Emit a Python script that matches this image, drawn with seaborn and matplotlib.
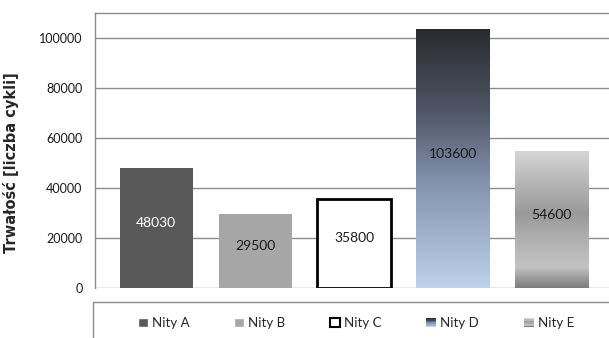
import numpy as np
import pandas as pd
import matplotlib
matplotlib.use("Agg")
import matplotlib.pyplot as plt
import seaborn as sns
from matplotlib.colors import LinearSegmentedColormap
from matplotlib.patches import Rectangle
from matplotlib.legend_handler import HandlerBase

# Fatigue life of rivet types
categories = ["Nity A", "Nity B", "Nity C", "Nity D", "Nity E"]
cycles = [48030, 29500, 35800, 103600, 54600]
value_labels = ["48030", "29500", "35800", "103600", "54600"]
y_ticks = [0, 20000, 40000, 60000, 80000, 100000]

face_colors = ["#595959", "#a6a6a6", "#ffffff", "#6e7d96", "#a8a8a8"]
label_colors = ["white", "#1a1a1a", "#1a1a1a", "#1a1a1a", "#1a1a1a"]

# vertical colour ramps (top -> bottom) for the shaded bars
grad_d = LinearSegmentedColormap.from_list(
    "grad_d", [(0.0, "#2a2b2f"), (0.3, "#4c5363"), (0.6, "#8494b0"), (1.0, "#bcd1ec")])
grad_e = LinearSegmentedColormap.from_list(
    "grad_e", [(0.0, "#d6d6d6"), (0.45, "#999999"), (0.7, "#b6b6b6"),
               (0.85, "#c2c2c2"), (1.0, "#7c7c7c")])
gradients = {3: grad_d, 4: grad_e}

sns.set_theme(style="white")
plt.rcParams["font.family"] = ["Lato", "DejaVu Sans"]

df = pd.DataFrame({"rivet": categories, "cycles": cycles})

fig = plt.figure(figsize=(6.09, 3.38), dpi=100)
ax = fig.add_axes([95 / 609, 1 - 288 / 338, 1 - 95 / 609, (288 - 13) / 338])

sns.barplot(data=df, x="rivet", y="cycles", hue="rivet", palette=face_colors,
            legend=False, width=0.74, saturation=1, ax=ax, zorder=2)

grad_img = np.linspace(0, 1, 256).reshape(-1, 1)
for i, bar in enumerate(ax.patches):
    bar.set_linewidth(0)
    if i == 2:
        bar.set_edgecolor("black")
        bar.set_linewidth(2)
    if i in gradients:
        x0, y0 = bar.get_x(), bar.get_y()
        w, h = bar.get_width(), bar.get_height()
        bar.set_facecolor("none")
        ax.imshow(grad_img, cmap=gradients[i], aspect="auto",
                  extent=(x0, x0 + w, y0, y0 + h), origin="upper", zorder=1.9)
    # value label in the middle of each bar
    ax.text(bar.get_x() + bar.get_width() / 2, cycles[i] / 2 + 2000, value_labels[i],
            ha="center", va="center", fontsize=10, color=label_colors[i], zorder=3)

ax.set_xlim(-0.62, 4.58)
ax.set_ylim(0, 110000)
ax.set_yticks(y_ticks)
ax.set_yticklabels([str(t) for t in y_ticks])
ax.set_xticks([])
ax.set_xlabel("")
ax.set_ylabel("Trwałość [liczba cykli]", fontsize=10.5, fontweight="bold",
              family=["DejaVu Sans"], labelpad=11)
ax.yaxis.set_label_coords(-0.148, 0.455)
ax.yaxis.grid(True, color="#8c8c8c", linewidth=1, zorder=0)
ax.set_axisbelow(True)
ax.tick_params(axis="y", length=0, pad=9, labelsize=9, colors="#1a1a1a")

for side in ["right", "bottom"]:
    ax.spines[side].set_visible(False)
for side in ["left", "top"]:
    ax.spines[side].set_color("#8c8c8c")
    ax.spines[side].set_linewidth(1)


class GradientSquare(HandlerBase):
    def __init__(self, cmap):
        super().__init__()
        self.cmap = cmap

    def create_artists(self, legend, orig_handle, xdescent, ydescent, width, height,
                       fontsize, trans):
        n = 6
        arts = []
        for k in range(n):
            arts.append(Rectangle((-xdescent, -ydescent + height * (n - 1 - k) / n),
                                  width, height / n, facecolor=self.cmap(k / (n - 1)),
                                  edgecolor="none", transform=trans))
        return arts


handles = [
    Rectangle((0, 0), 1, 1, facecolor=face_colors[0]),
    Rectangle((0, 0), 1, 1, facecolor=face_colors[1]),
    Rectangle((0, 0), 1, 1, facecolor="white", edgecolor="black", linewidth=1.5),
    Rectangle((0, 0), 1, 1, facecolor=face_colors[3]),
    Rectangle((0, 0), 1, 1, facecolor=face_colors[4]),
]
handler_map = {handles[3]: GradientSquare(grad_d), handles[4]: GradientSquare(grad_e)}

fig.legend(handles, categories, handler_map=handler_map, loc="center",
           bbox_to_anchor=(356 / 609, 1 - 323 / 338), ncol=5, frameon=False,
           fontsize=9.5, handlelength=0.75, handleheight=0.75, handletextpad=0.3,
           columnspacing=3.4)

# legend box outline running off the lower and right edges
fig.patches.append(Rectangle((93 / 609, -0.1), 1.0, (1 - 302 / 338) + 0.1,
                             transform=fig.transFigure, facecolor="none",
                             edgecolor="#8c8c8c", linewidth=1))

fig.savefig("out.png", dpi=100)
